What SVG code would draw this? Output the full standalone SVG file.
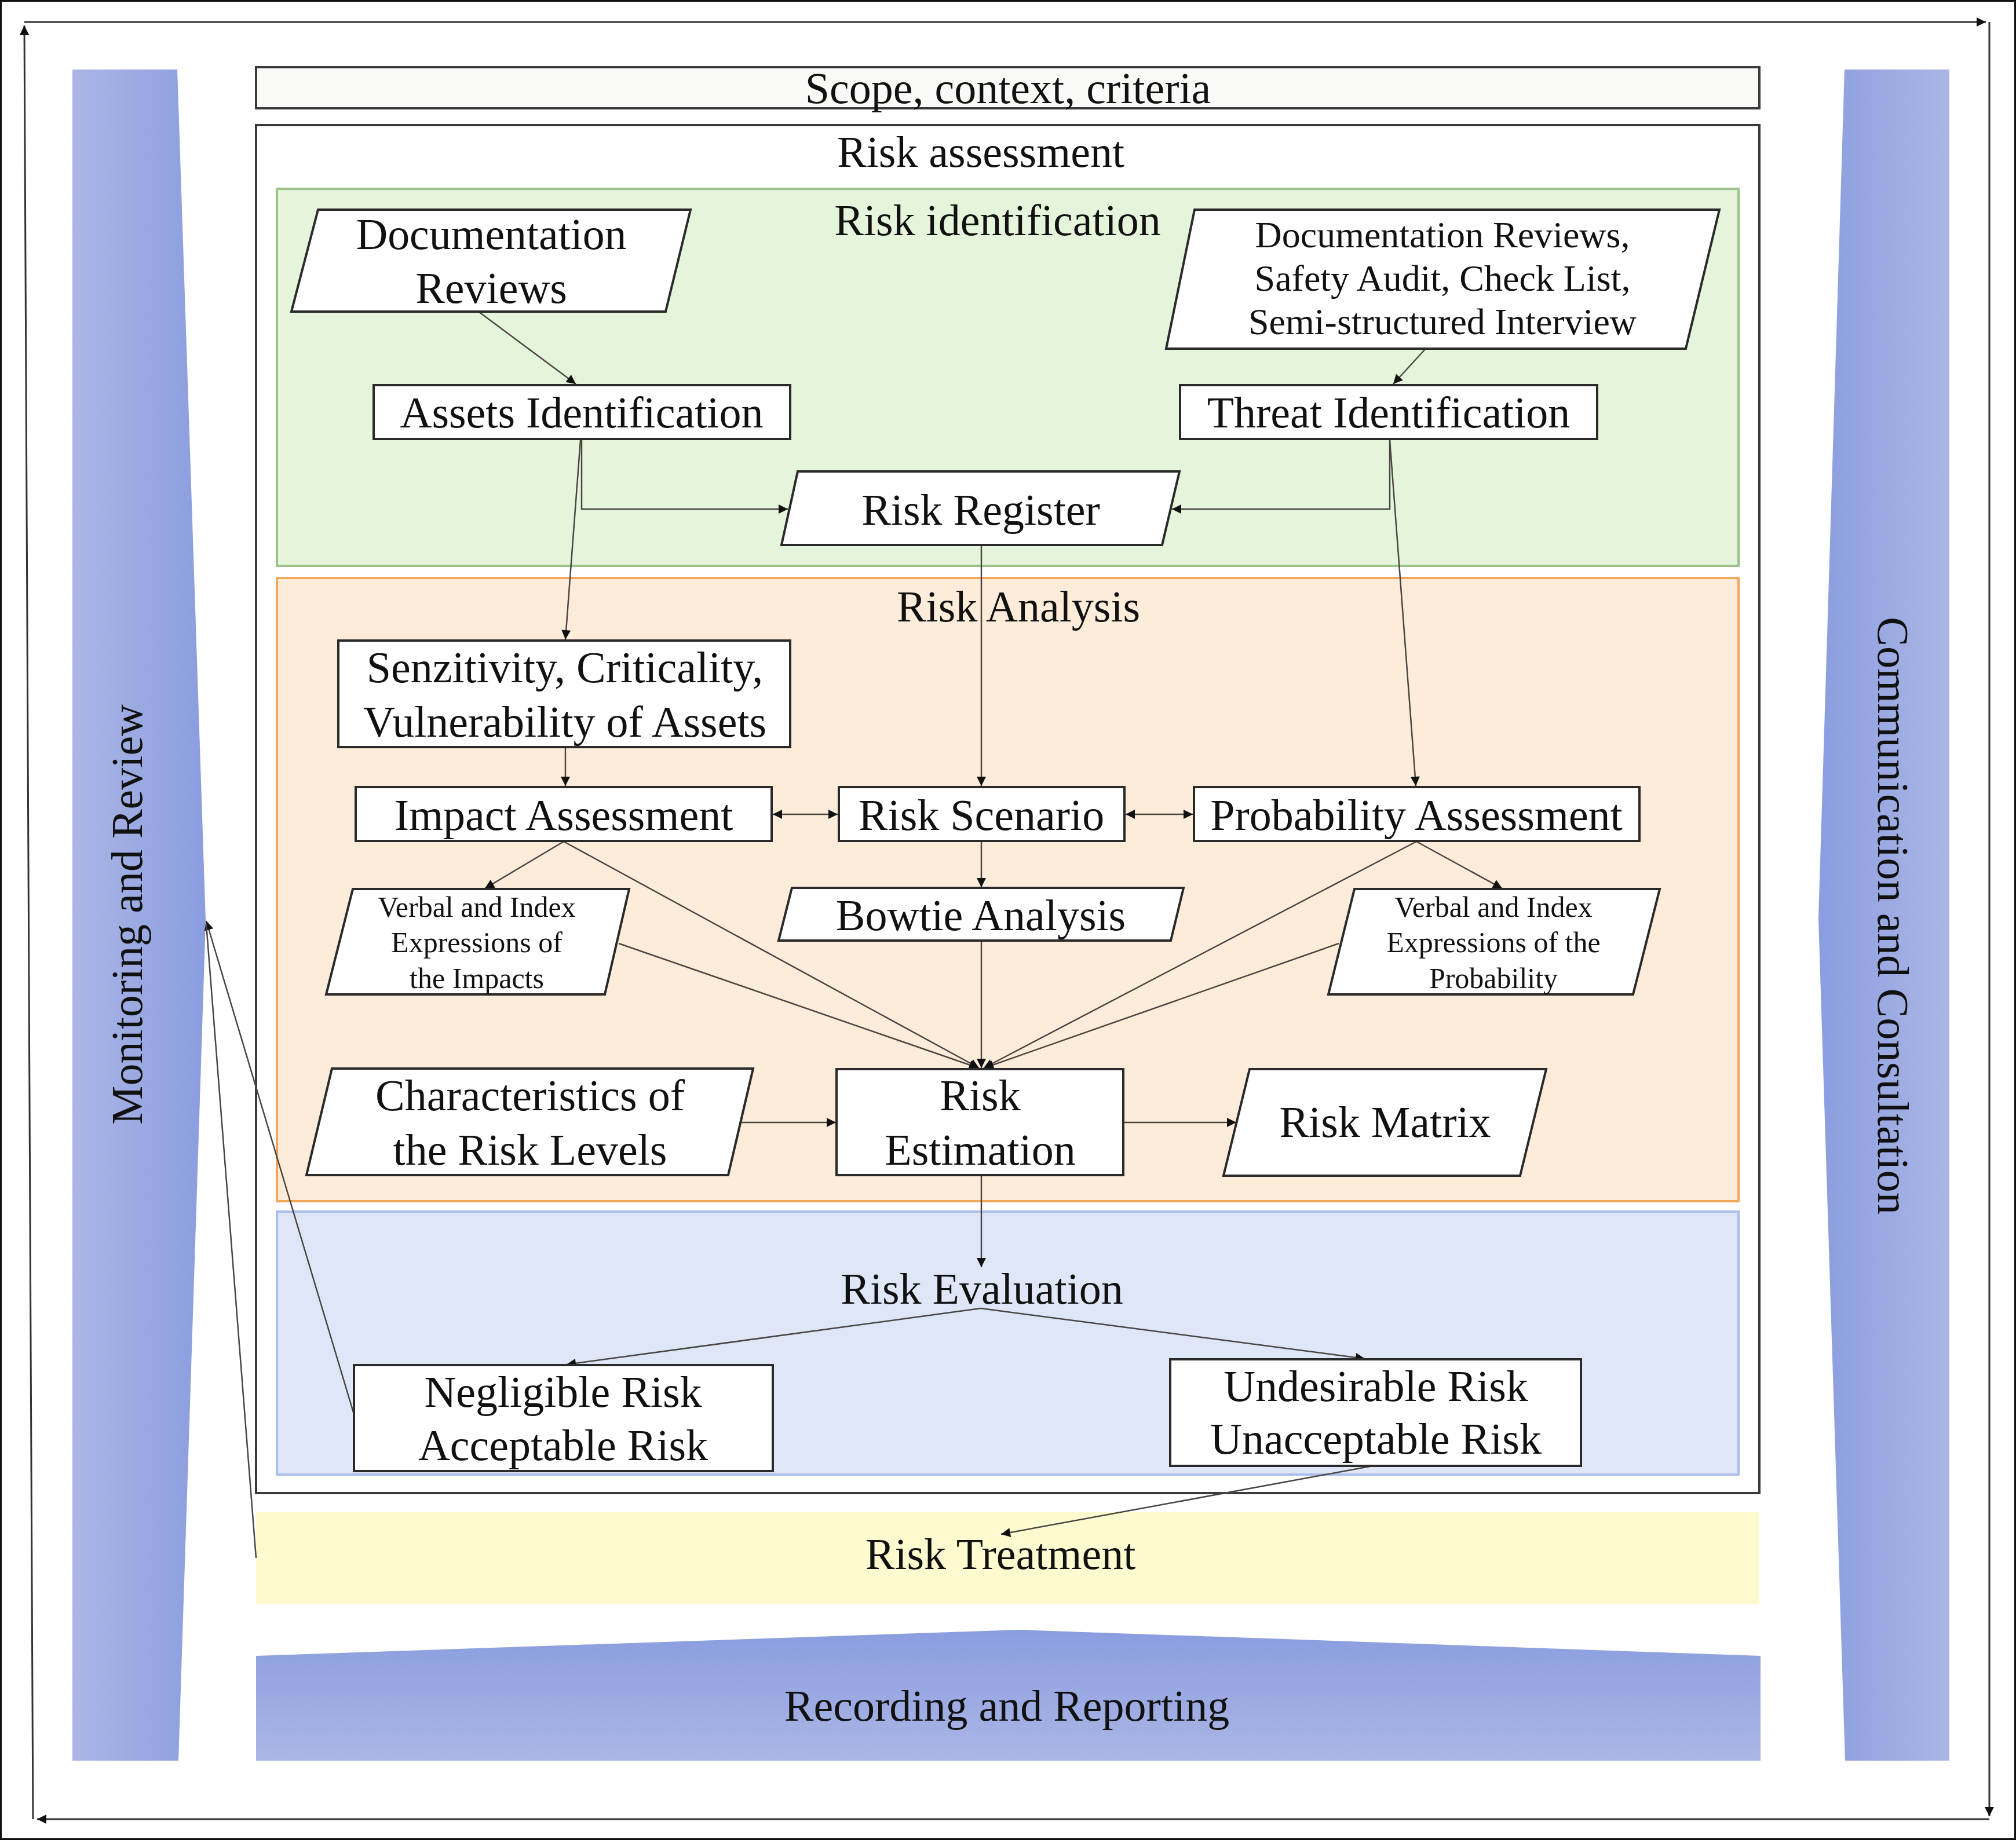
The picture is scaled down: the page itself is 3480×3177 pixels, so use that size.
<svg xmlns="http://www.w3.org/2000/svg" width="3480" height="3177" viewBox="0 0 3480 3177">
<defs>
<linearGradient id="gL" x1="0" y1="0" x2="1" y2="0"><stop offset="0" stop-color="#abb6e5"/><stop offset="1" stop-color="#8a9ddf"/></linearGradient>
<linearGradient id="gR" x1="0" y1="0" x2="1" y2="0"><stop offset="0" stop-color="#8a9ddf"/><stop offset="1" stop-color="#abb6e5"/></linearGradient>
<linearGradient id="gB" x1="0" y1="0" x2="0" y2="1"><stop offset="0" stop-color="#8a9ddf"/><stop offset="1" stop-color="#abb6e5"/></linearGradient>
<marker id="ah" viewBox="0 0 10 10" refX="10" refY="5" markerWidth="20" markerHeight="16" markerUnits="userSpaceOnUse" orient="auto-start-reverse"><path d="M0,0 L10,5 L0,10 z" fill="#111"/></marker>
<style>
.t{font-family:"Liberation Serif","Times New Roman",serif;font-size:76px;fill:#111;text-anchor:middle}
.s64{font-size:64px}
.s50{font-size:50px}
.box{fill:#fff;stroke:#2a2a2a;stroke-width:4}
.c{fill:none;stroke:#4a4540;stroke-width:2.5}
.cy{fill:none;stroke:#333;stroke-width:3}
</style>
</defs>
<rect x="1.5" y="1.5" width="3477" height="3174" fill="#fff" stroke="#111" stroke-width="3"/>

<g id="cycle">
<path class="cy" d="M42,38 H3428" marker-end="url(#ah)"/>
<path class="cy" d="M3434,38 V3136" marker-end="url(#ah)"/>
<path class="cy" d="M3434,3141 H64" marker-end="url(#ah)"/>
<path class="cy" d="M57,3141 L42,44" marker-end="url(#ah)"/>
</g>

<g id="monitoring">
<polygon points="125,120 306,120 355,1590 308,3040 125,3040" fill="url(#gL)"/>
<text class="t" transform="translate(245,1579) rotate(-90)" font-size="84" textLength="726" lengthAdjust="spacingAndGlyphs">Monitoring and Review</text>
</g>
<g id="communication">
<polygon points="3184,120 3365,120 3365,3040 3185,3040 3139,1586" fill="url(#gR)"/>
<text class="t" transform="translate(3242,1581) rotate(90)" font-size="84" textLength="1032" lengthAdjust="spacingAndGlyphs">Communication and Consultation</text>
</g>
<g id="recording">
<polygon points="442,2859 1760,2814 3039,2859 3039,3040 442,3040" fill="url(#gB)"/>
<text class="t" x="1738" y="2971">Recording and Reporting</text>
</g>

<g id="scope">
<rect x="442" y="116" width="2595" height="71" fill="#f9f9f7" stroke="#3a3a3a" stroke-width="4"/>
<text class="t" x="1740" y="178">Scope, context, criteria</text>
</g>
<g id="treatment">
<rect x="442" y="2611" width="2595" height="159" fill="#fefad0"/>
<text class="t" x="1727" y="2709">Risk Treatment</text>
</g>
<g id="assessment">
<rect x="442" y="216" width="2595" height="2362" fill="#fff" stroke="#3a3a3a" stroke-width="4"/>
<text class="t" x="1693" y="288">Risk assessment</text>
</g>
<g id="identification">
<rect x="478" y="326" width="2523" height="651" fill="#e5f5dc" stroke="#9cc28a" stroke-width="4"/>
<text class="t" x="1722" y="406">Risk identification</text>
</g>
<g id="analysis">
<rect x="478" y="998" width="2523" height="1076" fill="#fdecda" stroke="#f4a55a" stroke-width="4"/>
<text class="t" x="1758" y="1073">Risk Analysis</text>
</g>
<g id="evaluation">
<rect x="478" y="2092" width="2523" height="454" fill="#dfe6f8" stroke="#aabfec" stroke-width="4"/>
<text class="t" x="1695" y="2251">Risk Evaluation</text>
</g>

<g id="connectors">
<path class="c" d="M826,538 L994,663" marker-end="url(#ah)"/>
<path class="c" d="M2460,603 L2405,663" marker-end="url(#ah)"/>
<path class="c" d="M1004,758 V879 H1360" marker-end="url(#ah)"/>
<path class="c" d="M2399,758 V879 H2023" marker-end="url(#ah)"/>
<path class="c" d="M1002,760 L976,1104" marker-end="url(#ah)"/>
<path class="c" d="M2399,760 L2444,1357" marker-end="url(#ah)"/>
<path class="c" d="M1694,941 V1357" marker-end="url(#ah)"/>
<path class="c" d="M976,1290 V1357" marker-end="url(#ah)"/>
<path class="c" d="M1334,1406 H1446" marker-start="url(#ah)" marker-end="url(#ah)"/>
<path class="c" d="M1943,1406 H2059" marker-start="url(#ah)" marker-end="url(#ah)"/>
<path class="c" d="M973,1453 L837,1534" marker-end="url(#ah)"/>
<path class="c" d="M973,1453 L1690,1844" marker-end="url(#ah)"/>
<path class="c" d="M1068,1629 L1689,1844" marker-end="url(#ah)"/>
<path class="c" d="M1694,1452 V1532" marker-end="url(#ah)"/>
<path class="c" d="M1694,1624 V1844" marker-end="url(#ah)"/>
<path class="c" d="M2445,1453 L2593,1534" marker-end="url(#ah)"/>
<path class="c" d="M2445,1453 L1698,1844" marker-end="url(#ah)"/>
<path class="c" d="M2311,1629 L1699,1844" marker-end="url(#ah)"/>
<path class="c" d="M1280,1938 H1443" marker-end="url(#ah)"/>
<path class="c" d="M1939,1938 H2134" marker-end="url(#ah)"/>
<path class="c" d="M1694,2029 V2188" marker-end="url(#ah)"/>
<path class="c" d="M1693,2259 L978,2356" marker-end="url(#ah)"/>
<path class="c" d="M1693,2259 L2356,2346" marker-end="url(#ah)"/>
<path class="c" d="M2370,2531 L1728,2649" marker-end="url(#ah)"/>
<path class="c" d="M611,2442 L356,1590" marker-end="url(#ah)"/>
<path class="c" d="M442,2690 L356,1595"/>
</g>

<g id="doc-reviews">
<polygon class="box" points="549,362 1192,362 1149,538 503,538"/>
<text class="t" x="848" y="430" textLength="467" lengthAdjust="spacingAndGlyphs">Documentation</text>
<text class="t" x="848" y="523">Reviews</text>
</g>
<g id="doc-safety">
<polygon class="box" points="2062,362 2968,362 2910,602 2013,602"/>
<text class="t s64" x="2490" y="427">Documentation Reviews,</text>
<text class="t s64" x="2490" y="502">Safety Audit, Check List,</text>
<text class="t s64" x="2490" y="577">Semi-structured Interview</text>
</g>
<g id="assets-identification">
<rect class="box" x="645" y="665" width="719" height="93"/>
<text class="t" x="1004" y="738">Assets Identification</text>
</g>
<g id="threat-identification">
<rect class="box" x="2037" y="665" width="720" height="93"/>
<text class="t" x="2397" y="738">Threat Identification</text>
</g>
<g id="risk-register">
<polygon class="box" points="1377,814 2036,814 2006,941 1349,941"/>
<text class="t" x="1693" y="906">Risk Register</text>
</g>
<g id="senzitivity">
<rect class="box" x="584" y="1106" width="780" height="184"/>
<text class="t" x="975" y="1178">Senzitivity, Criticality,</text>
<text class="t" x="975" y="1272">Vulnerability of Assets</text>
</g>
<g id="impact-assessment">
<rect class="box" x="614" y="1359" width="718" height="93"/>
<text class="t" x="973" y="1433">Impact Assessment</text>
</g>
<g id="risk-scenario">
<rect class="box" x="1448" y="1359" width="493" height="93"/>
<text class="t" x="1694" y="1433">Risk Scenario</text>
</g>
<g id="probability-assessment">
<rect class="box" x="2061" y="1359" width="769" height="93"/>
<text class="t" x="2445" y="1433">Probability Assessment</text>
</g>
<g id="verbal-impacts">
<polygon class="box" points="609,1535 1086,1535 1044,1717 563,1717"/>
<text class="t s50" x="823" y="1583">Verbal and Index</text>
<text class="t s50" x="823" y="1644">Expressions of</text>
<text class="t s50" x="823" y="1706">the Impacts</text>
</g>
<g id="bowtie">
<polygon class="box" points="1367,1533 2043,1533 2021,1624 1344,1624"/>
<text class="t" x="1693" y="1606">Bowtie Analysis</text>
</g>
<g id="verbal-probability">
<polygon class="box" points="2338,1535 2865,1535 2819,1717 2293,1717"/>
<text class="t s50" x="2578" y="1583">Verbal and Index</text>
<text class="t s50" x="2578" y="1644">Expressions of the</text>
<text class="t s50" x="2578" y="1706">Probability</text>
</g>
<g id="characteristics">
<polygon class="box" points="573,1845 1300,1845 1257,2029 529,2029"/>
<text class="t" x="915" y="1917">Characteristics of</text>
<text class="t" x="915" y="2011">the Risk Levels</text>
</g>
<g id="risk-estimation">
<rect class="box" x="1444" y="1846" width="495" height="183"/>
<text class="t" x="1692" y="1917">Risk</text>
<text class="t" x="1692" y="2011">Estimation</text>
</g>
<g id="risk-matrix">
<polygon class="box" points="2157,1846 2669,1846 2624,2030 2112,2030"/>
<text class="t" x="2391" y="1963">Risk Matrix</text>
</g>
<g id="negligible">
<rect class="box" x="611" y="2357" width="723" height="183"/>
<text class="t" x="972" y="2429">Negligible Risk</text>
<text class="t" x="972" y="2521">Acceptable Risk</text>
</g>
<g id="undesirable">
<rect class="box" x="2020" y="2347" width="709" height="184"/>
<text class="t" x="2375" y="2419">Undesirable Risk</text>
<text class="t" x="2375" y="2510">Unacceptable Risk</text>
</g>
</svg>
